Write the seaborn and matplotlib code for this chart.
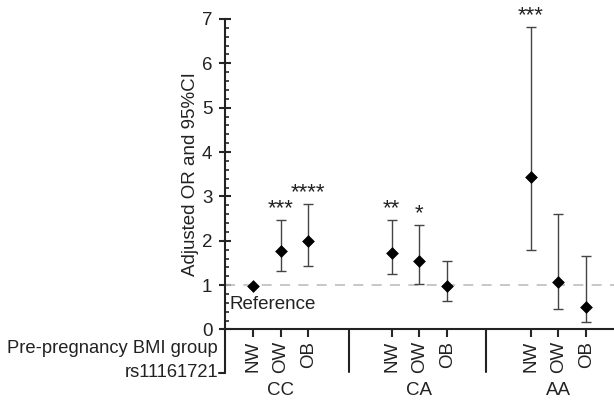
import numpy as np
import pandas as pd
import matplotlib.pyplot as plt
import matplotlib.ticker as mticker
import seaborn as sns

sns.set_theme(style="ticks")
plt.rcParams['font.family'] = ['Liberation Sans', 'DejaVu Sans']

## --- data
genotypes = ["CC", "CA", "AA"]
bmi_groups = ["NW", "OW", "OB"]
odds_ratio = [0.97, 1.76, 2.00, 1.73, 1.55, 0.98, 3.43, 1.07, 0.50]
ci_low = [np.nan, 1.31, 1.43, 1.25, 1.02, 0.65, 1.79, 0.46, 0.17]
ci_high = [np.nan, 2.46, 2.82, 2.46, 2.36, 1.55, 6.82, 2.60, 1.65]
stars = ["", "***", "****", "**", "*", "", "***", "", ""]

FS = 13.5
TXT = "#222222"

## --- x positions: three BMI groups per genotype, a gap between genotypes
xpos = [g * 5 + b for g in range(len(genotypes)) for b in range(len(bmi_groups))]
df = pd.DataFrame({
    "x": xpos,
    "genotype": np.repeat(genotypes, len(bmi_groups)),
    "bmi": bmi_groups * len(genotypes),
    "OR": odds_ratio,
    "low": ci_low,
    "high": ci_high,
    "stars": stars,
})

fig = plt.figure(figsize=(6.14, 4.03), dpi=100)
ax = fig.add_axes([0.3664, 0.1824, 0.6336, 0.7705])

## --- reference line at OR = 1
ax.axhline(1, color="#bdbdbd", lw=1.2, ls=(0, (6, 5)), zorder=1)

## --- confidence intervals
ci = df.dropna(subset=["low"])
ax.errorbar(ci["x"], ci["OR"],
            yerr=[ci["OR"] - ci["low"], ci["high"] - ci["OR"]],
            fmt="none", ecolor="#444444", elinewidth=1.0, capsize=3.5, capthick=1.0, zorder=2)

## --- point estimates
sns.scatterplot(data=df, x="x", y="OR", marker="D", color="black", s=36,
                edgecolor="black", ax=ax, zorder=3, legend=False)

## --- significance stars
for _, r in df.iterrows():
    if r["stars"]:
        ax.text(r["x"], r["high"] + 0.02, r["stars"], ha="center", va="bottom",
                fontsize=16, color=TXT)

ax.text(-0.85, 0.57, "Reference", ha="left", va="center", fontsize=FS, color=TXT)

## --- axes
ax.set_xlim(-1, 13)
ax.set_ylim(0, 7)
ax.set_xticks(df["x"])
ax.set_xticklabels(df["bmi"], rotation=90, fontsize=FS, color=TXT)
ax.yaxis.set_major_locator(mticker.MultipleLocator(1))
ax.yaxis.set_minor_locator(mticker.MultipleLocator(0.2))
ax.tick_params(axis="y", which="major", direction="inout", length=8, width=1.5,
               labelsize=FS, labelcolor=TXT, pad=5)
ax.tick_params(axis="y", which="minor", direction="in", length=3, width=1.2)
ax.tick_params(axis="x", which="major", direction="out", length=6, width=1.5, pad=2)
ax.set_xlabel("")
ax.set_ylabel("Adjusted OR and 95%CI", fontsize=FS, color=TXT, labelpad=2)

for side in ["top", "right"]:
    ax.spines[side].set_visible(False)
for side in ["left", "bottom"]:
    ax.spines[side].set_linewidth(1.5)
    ax.spines[side].set_color(TXT)

## --- extended left spine and genotype separators below the axis
ax.plot([-1, -1], [0, -0.98], color=TXT, lw=1.5, clip_on=False)
ax.plot([-1.2, -1], [-0.98, -0.98], color=TXT, lw=1.5, clip_on=False)
for sep in [3.45, 8.4]:
    ax.plot([sep, sep], [0, -0.95], color=TXT, lw=1.5, clip_on=False)

ax.text(-1.25, -0.42, "Pre-pregnancy BMI group", ha="right", va="center",
        fontsize=13.2, color=TXT)
ax.text(-1.25, -0.98, "rs11161721", ha="right", va="center",
        fontsize=13.2, color=TXT)
for g, name in enumerate(genotypes):
    ax.text(g * 5 + 1, -1.37, name, ha="center", va="center", fontsize=FS, color=TXT)

fig.savefig("out.png", dpi=100, facecolor="white")
